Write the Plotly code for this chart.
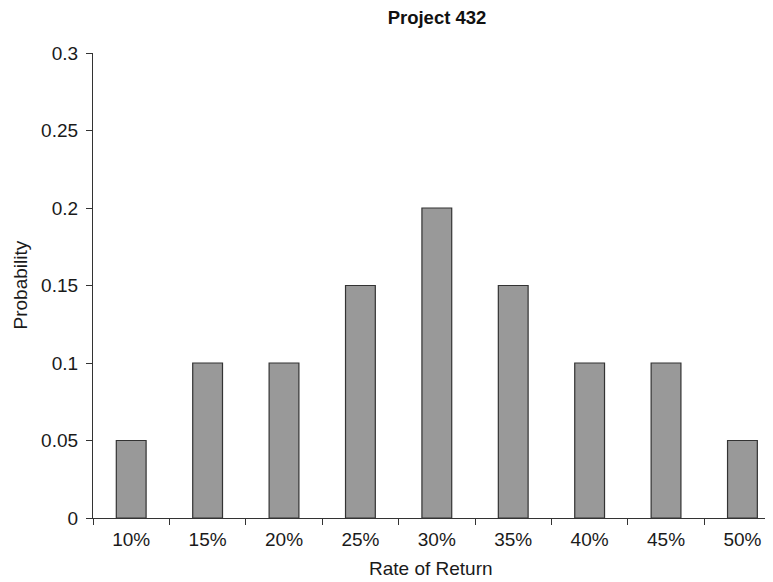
import plotly.graph_objects as go

categories = ["10%", "15%", "20%", "25%", "30%", "35%", "40%", "45%", "50%"]
probabilities = [0.05, 0.1, 0.1, 0.15, 0.2, 0.15, 0.1, 0.1, 0.05]
y_ticks = [0, 0.05, 0.1, 0.15, 0.2, 0.25, 0.3]
y_tick_labels = ["0", "0.05", "0.1", "0.15", "0.2", "0.25", "0.3"]

FONT = "Liberation Sans, Arial, Helvetica, sans-serif"
FS = 19

# page has an 8px body margin; figure sized so it fills the window
W, H = 765, 574
L, T, B = 85, 45, 64

fig = go.Figure(
    go.Bar(
        x=categories,
        y=probabilities,
        marker=dict(color="#999999", line=dict(color="#333333", width=1.2)),
        width=0.39,
    )
)

fig.update_layout(
    width=W,
    height=H,
    margin=dict(l=L, r=0, t=T, b=B, autoexpand=False),
    plot_bgcolor="white",
    paper_bgcolor="white",
    showlegend=False,
    font=dict(family=FONT, size=FS, color="#1a1a1a"),
    title=dict(
        text="<b>Project 432</b>",
        x=429 / W,
        xref="container",
        xanchor="center",
        y=1 - 10 / H,
        yref="container",
        yanchor="middle",
        font=dict(family=FONT, size=18.5, color="#111111"),
    ),
    xaxis=dict(
        type="category",
        range=[-0.5, 8.4],
        showline=True,
        linecolor="#333333",
        linewidth=1.2,
        ticks="outside",
        tickson="boundaries",
        ticklen=6,
        tickcolor="#333333",
        showgrid=False,
        zeroline=False,
        tickfont=dict(family=FONT, size=FS),
        ticklabelstandoff=4,
    ),
    yaxis=dict(
        range=[0, 0.3],
        tickvals=y_ticks,
        ticktext=y_tick_labels,
        showline=True,
        linecolor="#333333",
        linewidth=1.2,
        ticks="outside",
        ticklen=6,
        tickcolor="#333333",
        showgrid=False,
        zeroline=False,
        tickfont=dict(family=FONT, size=FS),
        ticklabelstandoff=4,
    ),
    annotations=[
        dict(
            text="Rate of Return",
            xref="paper", yref="paper",
            x=(423 - L) / (W - L), y=0,
            xanchor="center", yanchor="middle",
            yshift=-50,
            showarrow=False,
            font=dict(family=FONT, size=FS),
        ),
        dict(
            text="Probability",
            xref="paper", yref="paper",
            x=0, y=0.5,
            xanchor="center", yanchor="middle",
            xshift=-(L - 12),
            textangle=-90,
            showarrow=False,
            font=dict(family=FONT, size=FS),
        ),
    ],
)

fig.write_html("out.html")
